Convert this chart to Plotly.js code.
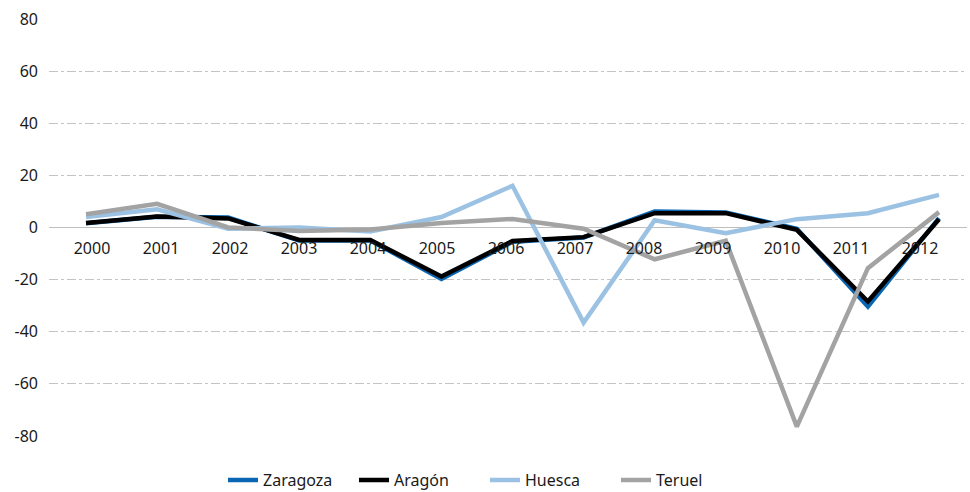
<!DOCTYPE html>
<html>
<head>
<meta charset="utf-8">
<script src="https://cdn.plot.ly/plotly-3.0.1.min.js"></script>
<style>html,body{margin:0;padding:0;background:#fff;}#chart{width:970px;height:492px;}</style>
</head>
<body>
<div id="chart"></div>
<script>
const years = [2000,2001,2002,2003,2004,2005,2006,2007,2008,2009,2010,2011,2012];
const tickLabels = ["2000","2001","2002","2003","2004","2005","2006","2007","2008","2009","2010","2011","2012"];
const yTickVals = [-80,-60,-40,-20,0,20,40,60,80];
const yTickText = ["-80","-60","-40","-20","0","20","40","60","80"];
const zaragoza = [1.6, 4.1, 3.8, -5.0, -5.0, -19.7, -5.5, -3.8, 6.1, 5.8, -0.5, -30.3, 3.6];
const aragon   = [1.7, 4.2, 3.5, -4.8, -4.8, -18.8, -5.2, -3.7, 5.5, 5.5, -0.9, -28.4, 3.2];
const huesca   = [4.0, 7.0, -0.5, 0.0, -1.5, 4.0, 16.0, -36.5, 2.8, -2.2, 3.2, 5.5, 12.5];
const teruel   = [5.1, 9.1, 0.0, -1.3, -0.8, 1.7, 3.3, -0.5, -12.2, -5.1, -76.4, -15.6, 5.9];

const font = "Noto Sans, Open Sans, sans-serif";
function tr(name, y, color){
  return {x: years, y: y, name: name, type: 'scatter', mode: 'lines',
          line: {color: color, width: 4.5}, hoverinfo: 'skip'};
}
const data = [
  tr('Zaragoza', zaragoza, '#0866b2'),
  tr('Aragón', aragon, '#000000'),
  tr('Huesca', huesca, '#9cc2e3'),
  tr('Teruel', teruel, '#a3a3a3')
];
data.push({x: years, y: years.map(()=>null), xaxis: 'x2', yaxis: 'y', showlegend: false, hoverinfo: 'skip', mode: 'lines'});

const layout = {
  width: 970, height: 492,
  margin: {l: 49, r: 3, t: 19, b: 56, autoexpand: false},
  paper_bgcolor: '#fff', plot_bgcolor: '#fff',
  font: {family: font, size: 16, color: '#1a1a1a'},
  showlegend: true,
  legend: {orientation: 'h', x: 0.5, xanchor: 'center', xref: 'container', y: 0.024, yanchor: 'middle', yref: 'container',
           font: {family: font, size: 16, color: '#1a1a1a'}, traceorder: 'normal', entrywidth: 86},
  xaxis: {range: [1999.479, 2012.394], showgrid: false, zeroline: false, showline: false,
          showticklabels: false, ticks: '', fixedrange: true},
  xaxis2: {overlaying: 'x', anchor: 'free', position: 0.5, side: 'bottom',
           range: [1999.377, 2012.681], tickmode: 'array', tickvals: years, ticktext: tickLabels,
           showgrid: false, zeroline: false, showline: false, ticks: 'outside', ticklen: 6, tickcolor: 'rgba(0,0,0,0)',
           tickfont: {family: font, size: 16, color: '#1a1a1a'}},
  yaxis: {range: [-80, 80], tickmode: 'array', tickvals: yTickVals, ticktext: yTickText,
          showgrid: true, gridcolor: '#c4c4c4', gridwidth: 1, griddash: 'dashdot',
          zeroline: true, zerolinecolor: '#bfbfbf', zerolinewidth: 1.5, showline: false, ticks: '',
          ticklabelstandoff: 10, tickfont: {family: font, size: 16, color: '#1a1a1a'}}
};
Plotly.newPlot('chart', data, layout, {displayModeBar: false, staticPlot: true});
</script>
</body>
</html>
